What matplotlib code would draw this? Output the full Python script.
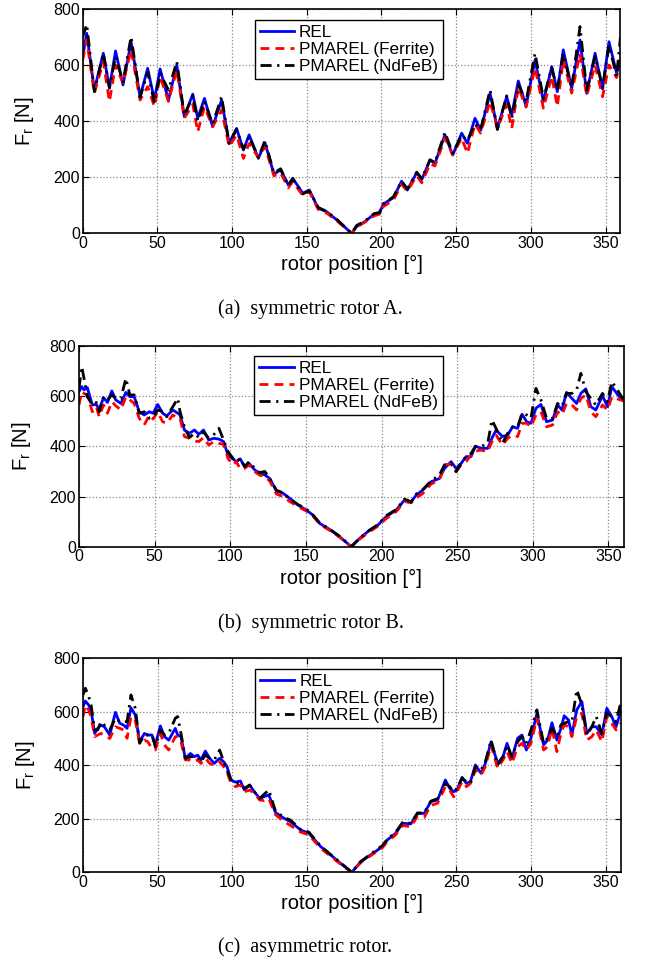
import matplotlib
matplotlib.use("Agg")
import matplotlib.pyplot as plt
import numpy as np

# ---- (a) symmetric rotor A ----
a_pos = [0, 2.7, 7.8, 13.8, 17.9, 22, 27, 32.4, 38.4, 43.5, 48, 51.8, 57.4, 63, 68, 73.7, 77, 81.5, 87, 93,
         98, 103, 107.6, 111.4, 117.6,
         122, 128, 132.5, 137.7, 140.6, 147.3, 151.7, 157.7, 163.3, 170, 180, 183.4, 189, 195, 198.6,
         201.2, 208, 213.5, 217.3, 223.6, 227, 232.5, 235.8,
         242.5, 247.7, 253.7, 257.5, 262.6, 266.4, 272.7, 277.6, 283.8, 287.2, 291.6, 296.8, 302.8, 308.4,
         314, 317.7, 321.7, 327.3, 332.9, 337.4, 343, 348, 352.3, 357.4, 360]
a_rel = [630, 713, 511, 642, 517, 650, 529, 683, 487, 588, 475, 586, 475, 600, 416, 496, 410, 481, 380, 475,
         321, 374, 297, 351, 267,
         323, 211, 226, 172, 196, 143, 154, 89, 77, 48, 0, 24, 42, 68, 71,
         104, 127, 186, 154, 216, 192, 261, 249,
         351, 279, 357, 321, 410, 368, 499, 374, 487, 422, 543, 454, 618, 470,
         594, 505, 654, 517, 689, 499, 642, 514, 683, 571, 618]
a_fer = [618, 689, 499, 612, 470, 600, 535, 654, 475, 523, 452, 560, 470, 582, 410, 460, 362, 450, 380, 440,
         310, 350, 267, 320, 270,
         310, 205, 215, 162, 185, 135, 148, 85, 72, 45, 0, 22, 40, 62, 68,
         95, 118, 175, 150, 205, 180, 248, 240,
         340, 280, 340, 285, 390, 357, 470, 375, 460, 374, 520, 450, 590, 446,
         560, 452, 620, 500, 640, 490, 600, 487, 600, 555, 624]
a_ndf = [700, 745, 505, 642, 520, 630, 540, 701, 485, 575, 465, 570, 511, 612, 420, 490, 400, 470, 390, 487,
         320, 370, 300, 345, 270,
         330, 215, 230, 170, 195, 140, 152, 92, 78, 50, 0, 28, 44, 70, 74,
         105, 130, 185, 158, 218, 195, 262, 252,
         360, 285, 350, 330, 390, 370, 511, 370, 490, 410, 530, 470, 642, 480,
         590, 510, 640, 520, 737, 510, 630, 520, 670, 560, 701]

# ---- (b) symmetric rotor B ----
b_pos = [0, 1.8, 3.3, 5.5, 8.8, 11.5, 13.3, 16.2, 18.8, 21.7, 24.3, 27.7, 31, 33.6, 36.5, 39.8, 43.1, 46.5,
         49, 52, 55.3, 58, 62, 65.3, 66.8, 69.7, 73, 76.3, 79.2, 82.3, 85.8, 88.9, 92.5, 95.6, 98.5,
         101.8, 104, 106.6, 109.5, 112.4, 116.2, 119.5,
         122.8, 126.1, 130.5, 134.9, 139.3, 144.8, 150.3, 154.7, 159.1, 165.7, 172.3, 180, 185.5, 192.1,
         197.6, 203.1, 209.7, 215.2, 219.6, 223, 227.3, 232.8,
         238.3, 241.6, 246, 249.3, 252.6, 255.9, 259.2, 262, 265.8, 270.2, 273, 275.7, 280, 283.4, 286.7,
         290, 292.9, 296, 298.8, 302.1, 305.4, 309.1, 313.1, 316.4, 319.3, 322.3, 325.9, 329, 331.8,
         335.1, 338.4, 341.7, 346.1, 349.4, 352.3, 356, 360]
b_rel = [618, 638, 625, 634, 565, 567, 545, 594, 575, 621, 585, 571, 615, 598, 598, 538, 525, 538,
         532, 567, 532, 521, 545, 532, 525, 465, 452, 465, 448, 465, 425, 432, 429, 419, 365,
         350, 339, 350, 319, 332, 306, 292,
         286, 272, 222, 213, 193, 166, 146, 126, 93, 69, 40, 0, 33, 66,
         86, 120, 146, 186, 180, 206, 226, 259,
         272, 312, 339, 312, 332, 359, 359, 401, 392, 392, 432, 465, 439, 445, 478,
         472, 528, 498, 492, 552, 567, 498, 505, 565, 545, 615, 591, 571, 611,
         629, 558, 545, 602, 558, 638, 607, 581]
b_fer = [565, 618, 611, 605, 538, 558, 518, 565, 532, 578, 562, 545, 598, 585, 571, 512, 485, 525,
         509, 538, 498, 492, 525, 512, 512, 439, 432, 421, 419, 435, 405, 419, 412, 408, 352,
         326, 339, 310, 312, 326, 299, 285,
         280, 262, 210, 200, 180, 160, 142, 122, 90, 65, 38, 0, 30, 60,
         82, 112, 140, 180, 175, 195, 212, 250,
         266, 326, 330, 299, 326, 339, 365, 381, 385, 379, 419, 445, 405, 432, 445,
         439, 492, 492, 478, 525, 538, 478, 485, 538, 525, 571, 565, 545, 591,
         605, 538, 518, 565, 545, 598, 589, 581]
b_ndf = [631, 718, 671, 598, 565, 575, 538, 598, 585, 605, 591, 591, 671, 605, 605, 532, 538, 512,
         518, 545, 538, 518, 558, 591, 538, 478, 435, 452, 435, 458, 432, 445, 472, 425, 379,
         352, 339, 352, 319, 339, 312, 295,
         300, 272, 225, 215, 190, 168, 150, 126, 95, 70, 42, 0, 34, 66,
         88, 124, 148, 190, 178, 210, 228, 262,
         286, 326, 332, 299, 332, 359, 372, 399, 399, 412, 505, 472, 412, 452, 478,
         478, 532, 525, 512, 631, 585, 512, 512, 571, 558, 611, 611, 625, 691,
         618, 591, 565, 611, 578, 658, 625, 585]

# ---- (c) asymmetric rotor ----
c_pos = [0, 1.6, 3.8, 5.4, 7.8, 9.8, 12, 14.3, 17.9, 21.7, 24.6, 27.2, 29.5, 32.1, 35, 37.9, 41.1, 43.3,
         46.2, 48.4, 51.8, 54.5, 57.4, 61.8, 63.4, 65.6, 68.5, 71.9, 74.6, 76.8, 79, 81.9, 84.8, 87.9,
         91.5, 94.2, 96.4, 99.1, 102, 105.4, 108, 111.6, 114.7, 118.3,
         121, 124.4, 128.9, 134.5, 138.9, 145.7, 151.2, 159.1, 165.8, 172.5, 180, 185.9, 192.6, 200.5,
         203.8, 209.4, 213.9, 219.5, 224, 228.4, 232.9, 237.4,
         242.6, 245.5, 248.2, 250.4, 253.8, 256.7, 259.4, 262.7, 266.5, 269.4, 273.2, 277.6, 281.2,
         283.9, 287.2, 291, 293.9, 296.8, 299.9, 303.9, 308.4, 311, 314, 317.3, 320, 322.2, 325.1,
         327.3, 330.6, 334, 337.3, 340.7, 343.6, 347.4, 350.7, 354, 356.9, 360]
c_rel = [619, 640, 625, 606, 519, 538, 550, 544, 513, 598, 557, 550, 538, 615, 588, 488, 519, 513,
         513, 476, 547, 507, 494, 538, 513, 507, 426, 444, 432, 438, 420, 453, 426, 407,
         426, 413, 395, 345, 337, 341, 308, 326, 301, 276,
         282, 289, 223, 202, 189, 158, 146, 96, 65, 33, 0, 39, 65, 96,
         121, 146, 183, 181, 220, 220, 264, 270,
         345, 314, 301, 307, 355, 332, 339, 401, 370, 407, 488, 407, 432,
         482, 426, 501, 513, 457, 501, 594, 476, 494, 559, 494, 538, 585, 569,
         513, 607, 638, 519, 544, 544, 513, 613, 582, 544, 601]
c_fer = [582, 625, 606, 582, 507, 513, 519, 513, 500, 544, 538, 532, 501, 582, 569, 482, 494, 488,
         463, 457, 519, 476, 457, 507, 507, 488, 420, 420, 413, 420, 407, 426, 407, 401,
         413, 395, 376, 332, 320, 326, 301, 307, 295, 270,
         268, 275, 215, 190, 175, 150, 140, 90, 60, 30, 0, 36, 62, 92,
         115, 140, 175, 170, 210, 205, 250, 258,
         320, 307, 282, 301, 339, 320, 332, 382, 363, 395, 476, 389, 420,
         451, 407, 469, 482, 457, 482, 576, 457, 469, 538, 451, 519, 551, 544,
         507, 582, 594, 494, 507, 532, 488, 582, 557, 532, 557]
c_ndf = [663, 688, 657, 625, 532, 532, 563, 550, 532, 576, 563, 563, 563, 663, 613, 482, 513, 513,
         513, 469, 532, 513, 519, 576, 582, 519, 426, 432, 432, 432, 413, 438, 426, 420,
         457, 413, 382, 345, 332, 332, 314, 326, 301, 276,
         290, 308, 228, 205, 195, 160, 150, 98, 66, 35, 0, 40, 68, 100,
         124, 150, 186, 183, 222, 222, 266, 275,
         332, 320, 301, 314, 351, 339, 332, 395, 382, 413, 494, 401, 432,
         476, 432, 488, 507, 482, 532, 607, 482, 501, 538, 507, 551, 557, 563,
         563, 682, 626, 513, 544, 582, 519, 594, 582, 563, 632]

labels = ['REL', 'PMAREL (Ferrite)', 'PMAREL (NdFeB)']
captions = ['(a)  symmetric rotor A.', '(b)  symmetric rotor B.', '(c)  asymmetric rotor.']

panels = [
    (a_pos, a_rel, a_fer, a_ndf, [0.1282, 0.757, 0.8338, 0.2337], 0.679 - 0.0115),
    (b_pos, b_rel, b_fer, b_ndf, [0.1225, 0.4305, 0.8442, 0.2091], 0.352 - 0.0115),
    (c_pos, c_rel, c_fer, c_ndf, [0.1287, 0.0914, 0.8336, 0.2229], 0.014 - 0.011),
]

plt.rcParams['font.family'] = ['Liberation Sans', 'DejaVu Sans']

fig = plt.figure(figsize=(6.45, 9.6), dpi=100)

for i, (pos, rel, fer, ndf, rect, cap_y) in enumerate(panels):
    ax = fig.add_axes(rect)
    ax.plot(pos, rel, color='#0000ff', lw=2, ls='-', label=labels[0])
    ax.plot(pos, fer, color='#ff0000', lw=2, ls=(0, (3.2, 2.2)), label=labels[1])
    ax.plot(pos, ndf, color='black', lw=2, ls=(0, (4, 2, 0.8, 2)), label=labels[2])
    ax.set_xlim(0, 360)
    ax.set_ylim(0, 800)
    ax.set_xticks(np.arange(0, 361, 50))
    ax.set_yticks(np.arange(0, 801, 200))
    ax.grid(True, ls=':', color='#888888', lw=0.9)
    ax.tick_params(direction='in', top=True, right=True, labelsize=11.5, length=4, pad=2)
    for s in ax.spines.values():
        s.set_linewidth(1.2)
    ax.set_xlabel('rotor position [°]', fontsize=14.5, labelpad=3)
    ax.set_ylabel(r'F$_\mathregular{r}$ [N]', fontsize=14.5, labelpad=12)
    leg = ax.legend(loc='upper center', bbox_to_anchor=(0.495, 0.95), fontsize=12.3,
                    fancybox=False, framealpha=1, edgecolor='black', handlelength=2.0,
                    borderpad=0.3, labelspacing=0.1, handletextpad=0.3, borderaxespad=0)
    leg.get_frame().set_linewidth(1.0)
    fig.text(218 / 645, cap_y, captions[i], ha='left', va='bottom', fontsize=14.5,
             family=['Liberation Serif', 'DejaVu Serif'])

fig.savefig('out.png', dpi=100)
